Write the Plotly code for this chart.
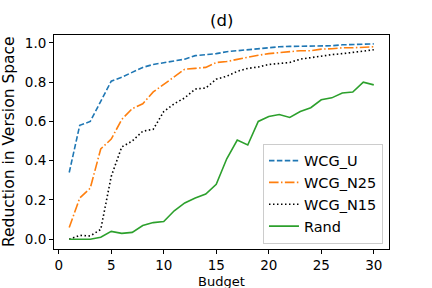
import plotly.graph_objects as go

budget = list(range(1, 31))
wcg_u = [0.34, 0.58, 0.60, 0.705, 0.805, 0.825, 0.85, 0.875, 0.89, 0.90,
         0.91, 0.917, 0.935, 0.94, 0.945, 0.955, 0.96, 0.965, 0.972, 0.977,
         0.98, 0.982, 0.983, 0.984, 0.985, 0.985, 0.99, 0.99, 0.993, 0.995]
wcg_n25 = [0.06, 0.21, 0.26, 0.46, 0.51, 0.61, 0.665, 0.69, 0.75, 0.79,
           0.83, 0.866, 0.87, 0.875, 0.90, 0.905, 0.916, 0.927, 0.937, 0.945,
           0.95, 0.958, 0.96, 0.96, 0.968, 0.97, 0.975, 0.975, 0.978, 0.98]
wcg_n15 = [0.0, 0.02, 0.017, 0.05, 0.32, 0.47, 0.50, 0.55, 0.56, 0.65,
           0.69, 0.72, 0.765, 0.77, 0.815, 0.83, 0.855, 0.87, 0.877, 0.89,
           0.895, 0.90, 0.917, 0.925, 0.935, 0.94, 0.945, 0.95, 0.958, 0.965]
rand = [0.0, 0.0, 0.0, 0.01, 0.04, 0.03, 0.035, 0.07, 0.085, 0.09,
        0.145, 0.185, 0.21, 0.23, 0.28, 0.41, 0.505, 0.48, 0.60, 0.625,
        0.635, 0.62, 0.65, 0.67, 0.71, 0.72, 0.745, 0.75, 0.80, 0.786]

x_ticks = [0, 5, 10, 15, 20, 25, 30]
y_ticks = [0.0, 0.2, 0.4, 0.6, 0.8, 1.0]

FONT = "DejaVu Sans"
fig = go.Figure()
fig.add_trace(go.Scatter(x=budget, y=wcg_u, mode="lines", name="WCG_U",
                         line=dict(color="#1f77b4", width=1.6, dash="5.5px,2.4px")))
fig.add_trace(go.Scatter(x=budget, y=wcg_n25, mode="lines", name="WCG_N25",
                         line=dict(color="#ff7f0e", width=1.6, dash="9.6px,2.4px,1.5px,2.4px")))
fig.add_trace(go.Scatter(x=budget, y=wcg_n15, mode="lines", name="WCG_N15",
                         line=dict(color="black", width=1.6, dash="1.5px,2.5px")))
fig.add_trace(go.Scatter(x=budget, y=rand, mode="lines", name="Rand",
                         line=dict(color="#2ca02c", width=1.6)))

axis_common = dict(showline=True, linecolor="black", linewidth=1, mirror=True,
                   ticks="outside", ticklen=4, tickwidth=1, tickcolor="black",
                   showgrid=False, zeroline=False,
                   tickfont=dict(family=FONT, size=13.5, color="black"))
fig.update_xaxes(range=[-0.45, 31.45], tickvals=x_ticks, **axis_common)
fig.update_yaxes(range=[-0.0495, 1.04], tickvals=y_ticks, tickformat=".1f", **axis_common)

fig.update_layout(
    width=432, height=288,
    margin=dict(l=54, r=43, t=35, b=39),
    paper_bgcolor="white", plot_bgcolor="white",
    showlegend=True,
    legend=dict(x=0.982, y=0.025, xanchor="right", yanchor="bottom",
                bgcolor="white", bordercolor="#cccccc", borderwidth=1,
                font=dict(family=FONT, size=14.5, color="black"),
                tracegroupgap=0, itemwidth=30),
    annotations=[
        dict(text="(d)", x=0.5, y=1, xref="paper", yref="paper",
             xanchor="center", yanchor="middle", yshift=15, showarrow=False,
             font=dict(family=FONT, size=16.5, color="black")),
        dict(text="Budget", x=0.5, y=0, xref="paper", yref="paper",
             xanchor="center", yanchor="middle", yshift=-32, showarrow=False,
             font=dict(family=FONT, size=13, color="black")),
        dict(text="Reduction in Version Space", x=0, y=0.5, xref="paper", yref="paper",
             xanchor="right", yanchor="middle", xshift=-34, textangle=-90, showarrow=False,
             font=dict(family=FONT, size=15.5, color="black")),
    ],
)

fig.write_html("out.html", config={"displayModeBar": False},
               post_script="document.body.style.margin='0';document.body.style.overflow='hidden';")
